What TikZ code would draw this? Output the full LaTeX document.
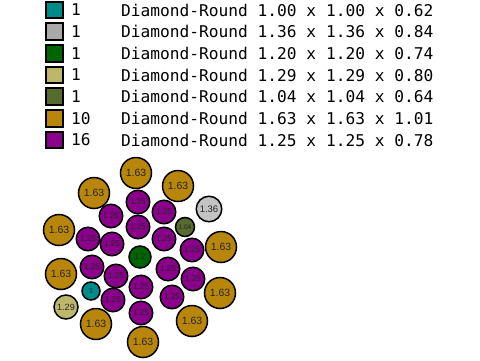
\documentclass[tikz,border=0pt]{standalone}
\usepackage{fontspec}
\setmainfont{Liberation Sans}
\newfontfamily\legendfont{DejaVu Sans Mono}
\usepackage{tikz}
\usetikzlibrary{positioning}
\definecolor{dcyan}{RGB}{0,139,139}
\definecolor{dgray}{RGB}{169,169,169}
\definecolor{dgreen}{RGB}{0,100,0}
\definecolor{dkhaki}{RGB}{189,183,107}
\definecolor{dolive}{RGB}{85,107,47}
\definecolor{dgold}{RGB}{184,134,11}
\definecolor{dmagenta}{RGB}{139,0,139}
\tikzstyle{swatch} = [rectangle, draw, line width=2pt, minimum size=16.5pt, inner sep=0pt]
\tikzstyle{legendtext} = [anchor=west, inner sep=0pt, font=\legendfont\fontsize{16.2}{16.2}\selectfont]
\tikzstyle{ball} = [circle, draw, line width=1.5pt, inner sep=0pt, text=black!85]
\tikzstyle{goldball} = [ball, fill=dgold, minimum size=31pt, font=\fontsize{10.5}{10.5}\selectfont]
\tikzstyle{purpleball} = [ball, fill=dmagenta, minimum size=23.5pt, font=\fontsize{8.2}{8.2}\selectfont]
\tikzstyle{greenball} = [ball, fill=dgreen, minimum size=22pt, font=\fontsize{8.2}{8.2}\selectfont]
\tikzstyle{grayball} = [ball, fill=dgray!70, minimum size=25.5pt, font=\fontsize{9.5}{9.5}\selectfont]
\tikzstyle{khakiball} = [ball, fill=dkhaki, minimum size=24pt, font=\fontsize{9}{9}\selectfont]
\tikzstyle{oliveball} = [ball, fill=dolive, minimum size=19pt, font=\fontsize{6.5}{6.5}\selectfont]
\tikzstyle{tealball} = [ball, fill=dcyan, minimum size=18pt, font=\fontsize{7}{7}\selectfont]

\begin{document}
\begin{tikzpicture}[x=1pt, y=-1pt]
    \useasboundingbox (0,0) rectangle (480,360);

    % legend
    \foreach \col/\num/\dims [count=\i] in {dcyan/1/{1.00 x 1.00 x 0.62}, dgray/1/{1.36 x 1.36 x 0.84},
        dgreen/1/{1.20 x 1.20 x 0.74}, dkhaki/1/{1.29 x 1.29 x 0.80}, dolive/1/{1.04 x 1.04 x 0.64},
        dgold/10/{1.63 x 1.63 x 1.01}, dmagenta/16/{1.25 x 1.25 x 0.78}} {
        \node (sw\i) [swatch, fill=\col] at (54.7, {10+21.67*(\i-1)}) {};
        \node (num\i) [legendtext, right=7pt of sw\i.east, anchor=west] {\num};
        \node (dim\i) [legendtext] at (121, {10+21.67*(\i-1)}) {Diamond-Round \dims};
    }

    % packing
    \foreach \x/\y [count=\i] in {136/173, 94/193, 178/186, 59/230, 221/247, 61/274, 220/293, 96/324, 192/321, 143/342}
        \node (g\i) [goldball] at (\x,\y) {1.63};
    \foreach \x/\y [count=\i] in {138/202, 164/212, 111/216, 138/227, 88/239, 112/244, 164/239, 192/250,
        92/267, 116/276, 168/269, 193/279, 141/287, 113/300, 172/297, 141/313}
        \node (p\i) [purpleball] at (\x,\y) {1.25};
    \node (core) [greenball] at (140,257) {1.2};
    \node (gray) [grayball] at (209,209) {1.36};
    \node (olive) [oliveball] at (185,227) {1.04};
    \node (teal) [tealball] at (91,291) {1};
    \node (khaki) [khakiball] at (66,307) {1.29};
\end{tikzpicture}
\end{document}
